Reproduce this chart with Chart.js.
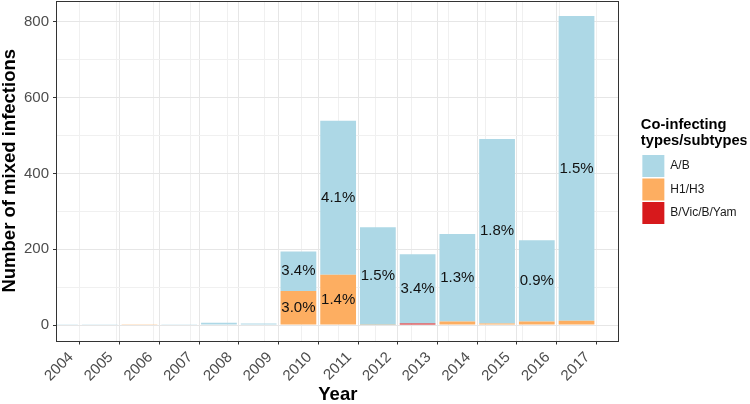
<!DOCTYPE html>
<html>
<head>
<meta charset="utf-8">
<script src="https://cdn.jsdelivr.net/npm/chart.js@4/dist/chart.umd.min.js"></script>
<style>
  body { margin: 0; background: #fff; }
  canvas { display: block; }
</style>
</head>
<body>
<canvas id="chart" width="750" height="404"></canvas>
<script>
const years = [2004, 2005, 2006, 2007, 2008, 2009, 2010, 2011, 2012, 2013, 2014, 2015, 2016, 2017];

const abValues   = [1, 1, 0, 1, 6, 4, 104, 406, 257, 183, 231, 487, 215, 805];
const h1h3Values = [0, 0, 1, 0, 0, 0, 90, 133, 1, 0, 9, 4, 9, 11];
const bvicValues = [0, 0, 0, 0, 0, 0, 0, 0, 0, 4, 0, 0, 0, 0];

const abLabels   = [null, null, null, null, null, null, '3.4%', '4.1%', '1.5%', '3.4%', '1.3%', '1.8%', '0.9%', '1.5%'];
const h1h3Labels = [null, null, null, null, null, null, '3.0%', '1.4%', null, null, null, null, null, null];

const yTicks = [0, 100, 200, 300, 400, 500, 600, 700, 800];

const FONT = '"Liberation Sans", Arial, sans-serif';
const MAJOR = '#E6E6E6';
const MINOR = '#F0F0F0';

function points(vals) {
  return years.map((yr, i) => ({ x: yr, y: vals[i] }));
}

// percentage text in the middle of each segment
const segmentLabels = {
  id: 'segmentLabels',
  afterDatasetsDraw(chart) {
    const ctx = chart.ctx;
    ctx.save();
    ctx.font = '15px ' + FONT;
    ctx.fillStyle = '#111';
    ctx.textAlign = 'center';
    ctx.textBaseline = 'middle';
    chart.data.datasets.forEach((ds, di) => {
      if (!ds.segLabels) return;
      chart.getDatasetMeta(di).data.forEach((bar, i) => {
        const txt = ds.segLabels[i];
        if (!txt) return;
        ctx.fillText(txt, bar.x, (bar.y + bar.base) / 2);
      });
    });
    ctx.restore();
  }
};

// panel border all round
const panelBorder = {
  id: 'panelBorder',
  afterDatasetsDraw(chart) {
    const a = chart.chartArea;
    const ctx = chart.ctx;
    ctx.save();
    ctx.strokeStyle = '#333';
    ctx.lineWidth = 1;
    ctx.strokeRect(Math.round(a.left) - 0.5, Math.round(a.top) + 0.5, Math.round(a.right - a.left), Math.round(a.bottom - a.top));
    ctx.restore();
  }
};

const xMin = 2003.924, xMax = 2018.06;

new Chart(document.getElementById('chart'), {
  type: 'bar',
  data: {
    datasets: [
      { label: 'B/Vic/B/Yam', data: points(bvicValues), backgroundColor: '#D7191C', borderWidth: 0 },
      { label: 'H1/H3', data: points(h1h3Values), backgroundColor: '#FDAE61', borderWidth: 0, segLabels: h1h3Labels },
      { label: 'A/B', data: points(abValues), backgroundColor: '#ADD8E6', borderWidth: 0, segLabels: abLabels }
    ]
  },
  options: {
    responsive: false,
    animation: false,
    categoryPercentage: 0.9,
    barPercentage: 1,
    layout: { padding: { top: 1, right: 3.4, left: 0, bottom: 0 } },
    plugins: {
      tooltip: { enabled: false },
      legend: {
        position: 'right',
        align: 'start',
        reverse: true,
        labels: {
          boxWidth: 22,
          boxHeight: 22,
          padding: 1.5,
          color: '#1A1A1A',
          font: { family: FONT, size: 12 }
        },
        title: {
          display: true,
          text: ['Co-infecting', 'types/subtypes'],
          position: 'start',
          color: '#000',
          padding: { top: 116.6, bottom: 19.4 },
          font: { family: FONT, size: 14.7, weight: 'bold', lineHeight: 1.12 }
        }
      }
    },
    scales: {
      x: {
        type: 'linear',
        stacked: true,
        min: xMin,
        max: xMax,
        offset: false,
        afterBuildTicks: (s) => { s.ticks = years.map(v => ({ value: v })); },
        afterFit: (s) => { s.height = 63.5; s.paddingLeft = 0; s.paddingRight = 0; },
        grid: { color: MAJOR, lineWidth: 1, tickColor: '#333', tickLength: 4 },
        border: { display: false },
        ticks: {
          autoSkip: false,
          minRotation: 45,
          maxRotation: 45,
          padding: 4,
          labelOffset: 11,
          color: '#4D4D4D',
          font: { family: FONT, size: 15 },
          callback: (v) => String(v)
        },
        title: {
          display: true,
          text: 'Year',
          color: '#000',
          padding: 0,
          font: { family: FONT, size: 18.5, weight: 'bold', lineHeight: 1 }
        }
      },
      xMinor: {
        type: 'linear',
        position: 'bottom',
        min: xMin,
        max: xMax,
        afterBuildTicks: (s) => { s.ticks = years.map(v => ({ value: v + 0.5 })).filter(t => t.value < xMax); },
        afterFit: (s) => { s.height = 0; s.paddingLeft = 0; s.paddingRight = 0; },
        grid: { color: MINOR, lineWidth: 1, drawTicks: false },
        border: { display: false },
        ticks: { display: false }
      },
      y: {
        stacked: true,
        min: -40.9,
        max: 855.4,
        afterBuildTicks: (s) => { s.ticks = yTicks.map(v => ({ value: v })); },
        afterFit: (s) => { s.width = 57; s.paddingTop = 0; s.paddingBottom = 0; },
        grid: {
          color: (c) => (c.tick && c.tick.value % 200 === 0) ? MAJOR : MINOR,
          tickColor: (c) => (c.tick && c.tick.value % 200 === 0) ? '#333' : 'rgba(0,0,0,0)',
          tickLength: 4,
          lineWidth: 1
        },
        border: { display: false },
        ticks: {
          padding: 4,
          color: '#4D4D4D',
          font: { family: FONT, size: 15 },
          callback: (v) => (v % 200 === 0 ? String(v) : '')
        },
        title: {
          display: true,
          text: 'Number of mixed infections',
          color: '#000',
          padding: 0,
          font: { family: FONT, size: 18.5, weight: 'bold', lineHeight: 1.1 }
        }
      },
      ySpacer: {
        type: 'linear',
        position: 'right',
        min: -40.9,
        max: 855.4,
        afterFit: (s) => { s.width = 22.2; s.paddingTop = 0; s.paddingBottom = 0; },
        grid: { display: false },
        border: { display: false },
        ticks: { display: false }
      }
    }
  },
  plugins: [segmentLabels, panelBorder]
});
</script>
</body>
</html>
